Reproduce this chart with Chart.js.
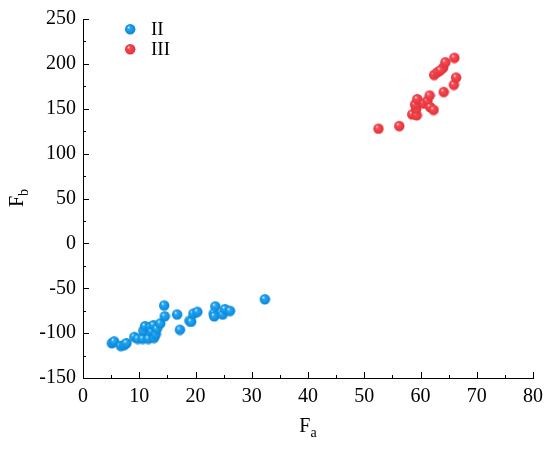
<!DOCTYPE html>
<html>
<head>
<meta charset="utf-8">
<script src="https://cdn.jsdelivr.net/npm/chart.js@4.4.1/dist/chart.umd.min.js"></script>
<style>
  html, body { margin: 0; padding: 0; background: #fff; }
  #wrap { width: 550px; height: 454px; }
</style>
</head>
<body>
<div id="wrap"><canvas id="c" width="550" height="454"></canvas></div>
<script>
// Series II (blue) and III (red)
const iiFa = [5.1, 5.5, 6.7, 7.3, 7.7, 9.1, 9.7, 10.6, 11.6, 10.7, 11.0, 11.9, 12.2, 12.5, 12.6, 12.9, 13.1, 13.7,
  14.4, 14.5, 16.7, 17.2, 18.9, 19.2, 19.6, 20.3, 23.5, 23.2, 23.3, 24.8, 25.2, 26.1, 32.3];
const iiFb = [-111, -109, -114, -113, -111, -104, -106, -106, -106, -97, -92, -93, -98, -91, -105, -101, -95, -89,
  -69, -81, -79, -96, -86, -87, -78, -76, -70, -78, -81, -79, -73, -75, -62];
const iiiFa = [52.5, 56.2, 58.5, 59.3, 59.2, 59.0, 59.4, 60.6, 61.2, 61.6, 61.7, 62.3, 64.1, 65.9, 66.3, 62.4, 63.0, 64.0, 64.4, 66.0, 63.5];
const iiiFb = [128, 131, 144, 143, 150, 155, 161, 156, 159, 165, 152, 149, 169, 177, 185, 188, 191, 196, 202, 207, 193];

const xTicks = { min: 0, max: 80, step: 10 };
const yTicks = { min: -150, max: 250, step: 50 };
const legendNames = ['II', 'III'];

const SERIF = "'Liberation Serif', 'Times New Roman', serif";

// Shaded sphere used as point style
function ball(base, dark, r) {
  const s = r * 2 + 2;
  const c = document.createElement('canvas');
  c.width = c.height = s;
  const g = c.getContext('2d');
  const grd = g.createRadialGradient(s / 2 - r * 0.35, s / 2 - r * 0.4, 0, s / 2, s / 2, r);
  grd.addColorStop(0, '#ffffff');
  grd.addColorStop(0.3, base);
  grd.addColorStop(1, dark);
  g.fillStyle = grd;
  g.beginPath();
  g.arc(s / 2, s / 2, r, 0, Math.PI * 2);
  g.fill();
  return c;
}

const BLUE = ball('#22a8f6', '#0a86d6', 5.2);
const RED = ball('#fa4a52', '#e0323a', 5.2);

// Inward major/minor ticks, in-plot legend and subscripted axis titles
const deco = {
  id: 'deco',
  afterDraw(chart) {
    const { ctx, scales: { x, y }, chartArea: a } = chart;
    ctx.save();
    ctx.strokeStyle = '#000';
    ctx.lineWidth = 1;
    ctx.beginPath();
    const xt = x.ticks.map(t => t.value);
    xt.forEach((v, i) => {
      const px = Math.round(x.getPixelForValue(v)) + 0.5;
      ctx.moveTo(px, a.bottom); ctx.lineTo(px, a.bottom - 6);
      if (i < xt.length - 1) {
        const pm = Math.round(x.getPixelForValue((v + xt[i + 1]) / 2)) + 0.5;
        ctx.moveTo(pm, a.bottom); ctx.lineTo(pm, a.bottom - 3);
      }
    });
    const yt = y.ticks.map(t => t.value);
    yt.forEach((v, i) => {
      const py = Math.round(y.getPixelForValue(v)) + 0.5;
      ctx.moveTo(a.left, py); ctx.lineTo(a.left + 6, py);
      if (i < yt.length - 1) {
        const pm = Math.round(y.getPixelForValue((v + yt[i + 1]) / 2)) + 0.5;
        ctx.moveTo(a.left, pm); ctx.lineTo(a.left + 3, pm);
      }
    });
    ctx.stroke();

    // legend
    ctx.fillStyle = '#000';
    ctx.font = '19px ' + SERIF;
    ctx.textBaseline = 'middle';
    [BLUE, RED].forEach((img, i) => {
      const cy = 29 + i * 20;
      ctx.drawImage(img, 130 - img.width / 2, cy - img.height / 2);
      ctx.fillText(legendNames[i], 151, cy + 1);
    });

    // axis titles
    const title = (main, sub) => {
      ctx.font = '20px ' + SERIF;
      const w1 = ctx.measureText(main).width;
      ctx.font = '14px ' + SERIF;
      const w2 = ctx.measureText(sub).width;
      const x0 = -(w1 + w2) / 2;
      ctx.textBaseline = 'alphabetic';
      ctx.font = '20px ' + SERIF;
      ctx.fillText(main, x0, 7);
      ctx.font = '14px ' + SERIF;
      ctx.fillText(sub, x0 + w1, 12);
    };
    ctx.save();
    ctx.translate((a.left + a.right) / 2, 425);
    title('F', 'a');
    ctx.restore();
    ctx.save();
    ctx.translate(16, 198);
    ctx.rotate(-Math.PI / 2);
    title('F', 'b');
    ctx.restore();
    ctx.restore();
  }
};

new Chart(document.getElementById('c'), {
  type: 'scatter',
  data: {
    datasets: [
      { label: legendNames[0], data: iiFa.map((v, i) => ({ x: v, y: iiFb[i] })), pointStyle: BLUE, pointRadius: 5 },
      { label: legendNames[1], data: iiiFa.map((v, i) => ({ x: v, y: iiiFb[i] })), pointStyle: RED, pointRadius: 5 },
    ],
  },
  options: {
    responsive: false,
    animation: false,
    layout: { padding: { left: 0, right: 17, top: 18, bottom: 0 } },
    plugins: { legend: { display: false }, tooltip: { enabled: false } },
    scales: {
      x: {
        min: xTicks.min, max: xTicks.max,
        afterFit: s => { s.height = 76; },
        ticks: { stepSize: xTicks.step, color: '#000', font: { family: SERIF, size: 20 }, padding: 7, maxRotation: 0 },
        grid: { display: false, drawTicks: false },
        border: { display: true, color: '#000', width: 1 },
      },
      y: {
        min: yTicks.min, max: yTicks.max,
        afterFit: s => { s.width = 83; },
        ticks: { stepSize: yTicks.step, color: '#000', font: { family: SERIF, size: 20 }, padding: 7 },
        grid: { display: false, drawTicks: false },
        border: { display: true, color: '#000', width: 1 },
      },
    },
  },
  plugins: [deco],
});
</script>
</body>
</html>
